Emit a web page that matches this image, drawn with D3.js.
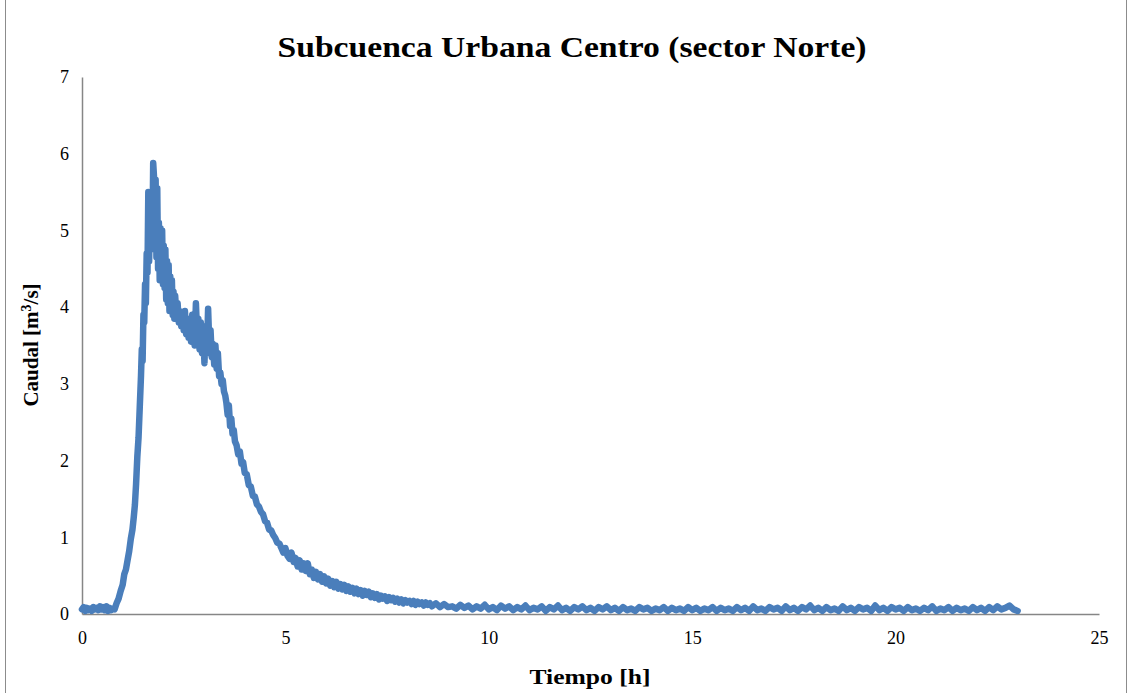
<!DOCTYPE html>
<html>
<head>
<meta charset="utf-8">
<script src="https://cdn.jsdelivr.net/npm/d3@7"></script>
<style>
  html, body { margin: 0; padding: 0; background: #fff; }
  svg { display: block; }
</style>
</head>
<body>
<svg id="chart" width="1132" height="693"></svg>
<script>
// ---- DATA ----
const titleText = "Subcuenca Urbana Centro (sector Norte)";
const xTitle = "Tiempo [h]";
const yTickValues = [0, 1, 2, 3, 4, 5, 6, 7];
const xTickValues = [0, 5, 10, 15, 20, 25];

// [tiempo h, caudal m3/s]
const baseFlow = [
  [0.00,0.06],[0.04,0.09],[0.08,0.04],[0.12,0.08],[0.16,0.05],[0.20,0.07],[0.24,0.04],
  [0.28,0.09],[0.32,0.06],[0.36,0.08],[0.40,0.05],[0.44,0.10],[0.48,0.06],[0.52,0.09],
  [0.56,0.05],[0.60,0.10],[0.64,0.04],[0.68,0.08],[0.72,0.05],[0.76,0.07],[0.80,0.06]
];
const risingLimb = [
  [0.85,0.14],[0.90,0.20],[0.95,0.30],[1.00,0.38],[1.04,0.52],[1.08,0.58],[1.12,0.70],
  [1.16,0.82],[1.20,0.98],[1.24,1.10],[1.27,1.25],[1.30,1.42],[1.33,1.70],[1.36,2.05],
  [1.39,2.30],[1.42,2.70],[1.45,3.10],[1.47,3.45],[1.49,3.30],[1.51,3.90],[1.53,3.80],
  [1.55,4.30],[1.57,4.05],[1.59,4.70],[1.61,4.45]
];
const peakZone = [
  [1.63,5.50],[1.65,4.60],[1.67,5.40],[1.69,4.75],[1.71,5.20],[1.73,4.85],[1.75,5.88],
  [1.77,5.70],[1.79,4.95],[1.81,5.66],[1.83,4.65],[1.85,5.55],[1.87,4.50],[1.89,5.10],
  [1.91,4.35],[1.93,5.03],[1.95,4.40],[1.97,5.00],[1.99,4.30],[2.01,4.80],[2.03,4.25],
  [2.05,4.75],[2.07,4.10],[2.09,4.60],[2.11,4.05],[2.13,4.55],[2.15,3.95],[2.17,4.40],
  [2.19,3.95],[2.21,4.35],[2.23,3.90],[2.25,4.20],[2.27,3.85],[2.29,4.15],[2.32,3.90],
  [2.35,4.05],[2.38,3.80],[2.41,3.95],[2.44,3.75],[2.47,3.90],[2.50,3.70],[2.53,3.95],
  [2.56,3.65],[2.59,3.85],[2.62,3.60],[2.65,3.80],[2.68,3.55],[2.71,3.90],[2.74,3.60],
  [2.77,3.50],[2.80,4.05],[2.83,3.65],[2.86,3.85],[2.89,3.45],[2.92,3.80],[2.95,3.40],
  [2.98,3.70],[3.01,3.27],[3.04,3.75],[3.07,3.40],[3.10,3.98],[3.13,3.50],[3.16,3.70],
  [3.19,3.35],[3.22,3.52],[3.25,3.25],[3.28,3.50],[3.31,3.20],[3.34,3.40]
];
const recession = [
  [3.37,3.10],[3.40,3.15],[3.43,3.00],[3.46,3.05],[3.49,2.90],[3.52,2.85],[3.55,2.75],
  [3.58,2.60],[3.61,2.72],[3.64,2.45],[3.67,2.55],[3.70,2.35],[3.73,2.40],[3.76,2.25],
  [3.80,2.20],[3.84,2.08],[3.88,2.12],[3.92,1.96],[3.96,1.98],[4.00,1.84],[4.05,1.82],
  [4.10,1.68],[4.15,1.66],[4.20,1.54],[4.25,1.53],[4.30,1.43],[4.35,1.40],[4.40,1.33],
  [4.45,1.30],[4.50,1.21],[4.55,1.19],[4.60,1.10],[4.65,1.09],[4.70,1.03],[4.75,0.99],
  [4.80,0.93],[4.85,0.92],[4.90,0.86],[4.95,0.80],[5.00,0.86],[5.05,0.76],[5.10,0.72],
  [5.15,0.80],[5.20,0.68],[5.25,0.73],[5.30,0.62],[5.35,0.70],[5.40,0.58],[5.45,0.66],
  [5.50,0.56],[5.55,0.66],[5.60,0.52],[5.65,0.58],[5.70,0.47],[5.75,0.55],[5.80,0.45],
  [5.85,0.52],[5.90,0.42],[5.95,0.49],[6.00,0.40],[6.05,0.46],[6.10,0.37],[6.15,0.43],
  [6.20,0.35],[6.25,0.42],[6.30,0.33],[6.35,0.39],[6.40,0.32],[6.45,0.38],[6.50,0.30],
  [6.55,0.36],[6.60,0.29],[6.65,0.34],[6.70,0.27],[6.75,0.33],[6.80,0.26],[6.85,0.31],
  [6.90,0.24],[6.95,0.30],[7.00,0.25],[7.05,0.29],[7.10,0.22],[7.15,0.27],[7.20,0.21],
  [7.25,0.26],[7.30,0.19],[7.35,0.24],[7.40,0.20],[7.45,0.23],[7.50,0.17],[7.55,0.22],
  [7.60,0.18],[7.65,0.21],[7.70,0.16],[7.75,0.20],[7.80,0.15],[7.85,0.19],[7.90,0.14],
  [7.95,0.18],[8.00,0.15],[8.05,0.17],[8.10,0.13],[8.15,0.17],[8.20,0.12],[8.25,0.16],
  [8.30,0.13],[8.35,0.15],[8.40,0.11],[8.45,0.15],[8.50,0.12],[8.55,0.14],[8.60,0.10],
  [8.70,0.14],[8.80,0.09],[8.90,0.13],[9.00,0.09]
];
const tailFlow = [
  [9.1,0.10],[9.2,0.07],[9.3,0.12],[9.4,0.08],[9.5,0.11],[9.6,0.06],[9.7,0.10],[9.8,0.07],[9.9,0.12],[10.0,0.06],
  [10.1,0.09],[10.2,0.05],[10.3,0.11],[10.4,0.07],[10.5,0.10],[10.6,0.05],[10.7,0.09],[10.8,0.06],[10.9,0.11],[11.0,0.05],
  [11.1,0.08],[11.2,0.06],[11.3,0.10],[11.4,0.04],[11.5,0.09],[11.6,0.06],[11.7,0.11],[11.8,0.05],[11.9,0.08],[12.0,0.04],
  [12.1,0.09],[12.2,0.06],[12.3,0.10],[12.4,0.05],[12.5,0.08],[12.6,0.04],[12.7,0.09],[12.8,0.06],[12.9,0.10],[13.0,0.05],
  [13.1,0.08],[13.2,0.04],[13.3,0.09],[13.4,0.05],[13.5,0.07],[13.6,0.04],[13.7,0.09],[13.8,0.06],[13.9,0.08],[14.0,0.04],
  [14.1,0.07],[14.2,0.05],[14.3,0.09],[14.4,0.04],[14.5,0.08],[14.6,0.05],[14.7,0.07],[14.8,0.04],[14.9,0.09],[15.0,0.05],
  [15.1,0.08],[15.2,0.04],[15.3,0.07],[15.4,0.05],[15.5,0.09],[15.6,0.04],[15.7,0.08],[15.8,0.05],[15.9,0.07],[16.0,0.04],
  [16.1,0.09],[16.2,0.05],[16.3,0.08],[16.4,0.04],[16.5,0.10],[16.6,0.05],[16.7,0.07],[16.8,0.04],[16.9,0.09],[17.0,0.06],
  [17.1,0.08],[17.2,0.04],[17.3,0.10],[17.4,0.05],[17.5,0.08],[17.6,0.04],[17.7,0.09],[17.8,0.06],[17.9,0.11],[18.0,0.05],
  [18.1,0.08],[18.2,0.04],[18.3,0.09],[18.4,0.05],[18.5,0.07],[18.6,0.04],[18.7,0.10],[18.8,0.05],[18.9,0.08],[19.0,0.04],
  [19.1,0.09],[19.2,0.06],[19.3,0.08],[19.4,0.04],[19.5,0.11],[19.6,0.05],[19.7,0.08],[19.8,0.04],[19.9,0.09],[20.0,0.06],
  [20.1,0.08],[20.2,0.04],[20.3,0.09],[20.4,0.05],[20.5,0.07],[20.6,0.04],[20.7,0.08],[20.8,0.05],[20.9,0.10],[21.0,0.04],
  [21.1,0.07],[21.2,0.05],[21.3,0.09],[21.4,0.04],[21.5,0.08],[21.6,0.05],[21.7,0.07],[21.8,0.04],[21.9,0.09],[22.0,0.05],
  [22.1,0.08],[22.2,0.04],[22.3,0.09],[22.4,0.05],[22.5,0.10],[22.6,0.06],[22.7,0.08],[22.8,0.11],[22.9,0.06],[23.0,0.04]
];

const series = [].concat(baseFlow, risingLimb, peakZone, recession, tailFlow);

// ---- LAYOUT ----
const svg = d3.select("#chart");
const W = 1132, H = 693;
const plot = { left: 82, right: 1099, top: 77, bottom: 614 };
const serif = "'Liberation Serif', 'Times New Roman', serif";
const axisColor = "#868686";
const lineColor = "#4a7ebb";

// outer chart border
svg.append("rect")
  .attr("x", 5.5).attr("y", -2)
  .attr("width", 1121).attr("height", H + 4)
  .attr("fill", "none").attr("stroke", "#8c8c8c").attr("stroke-width", 1);

const x = d3.scaleLinear().domain([0, 25]).range([plot.left, plot.right]);
const y = d3.scaleLinear().domain([0, 7]).range([plot.bottom, plot.top]);

// x axis
const gx = svg.append("g").attr("transform", `translate(0,${plot.bottom})`)
  .call(d3.axisBottom(x).tickValues(xTickValues).tickSize(0).tickPadding(17).tickFormat(d3.format("d")));
gx.select(".domain").attr("stroke", axisColor).attr("stroke-width", 1.5);
gx.selectAll("text").attr("font-family", serif).attr("font-size", 18).attr("fill", "#000");

// y axis
const gy = svg.append("g").attr("transform", `translate(${plot.left},0)`)
  .call(d3.axisLeft(y).tickValues(yTickValues).tickSize(0).tickPadding(13).tickFormat(d3.format("d")));
gy.select(".domain").attr("stroke", axisColor).attr("stroke-width", 1.5);
gy.selectAll("text").attr("font-family", serif).attr("font-size", 18).attr("fill", "#000");

// line
const line = d3.line().x(d => x(d[0])).y(d => y(d[1]));
svg.append("path")
  .datum(series)
  .attr("d", line)
  .attr("fill", "none")
  .attr("stroke", lineColor)
  .attr("stroke-width", 6.5)
  .attr("stroke-linejoin", "round")
  .attr("stroke-linecap", "round");

// title
svg.append("text")
  .attr("x", 572).attr("y", 57)
  .attr("text-anchor", "middle")
  .attr("font-family", serif).attr("font-weight", "bold").attr("font-size", 29)
  .attr("textLength", 589).attr("lengthAdjust", "spacingAndGlyphs")
  .text(titleText);

// x axis title
svg.append("text")
  .attr("x", 590).attr("y", 684)
  .attr("text-anchor", "middle")
  .attr("font-family", serif).attr("font-weight", "bold").attr("font-size", 21)
  .attr("textLength", 121).attr("lengthAdjust", "spacingAndGlyphs")
  .text(xTitle);

// y axis title with superscript
const yt = svg.append("text")
  .attr("transform", "translate(38,345) rotate(-90)")
  .attr("text-anchor", "middle")
  .attr("font-family", serif).attr("font-weight", "bold").attr("font-size", 21);
yt.append("tspan").text("Caudal [m");
yt.append("tspan").attr("dy", -7).attr("font-size", 14).text("3");
yt.append("tspan").attr("dy", 7).text("/s]");
</script>
</body>
</html>
